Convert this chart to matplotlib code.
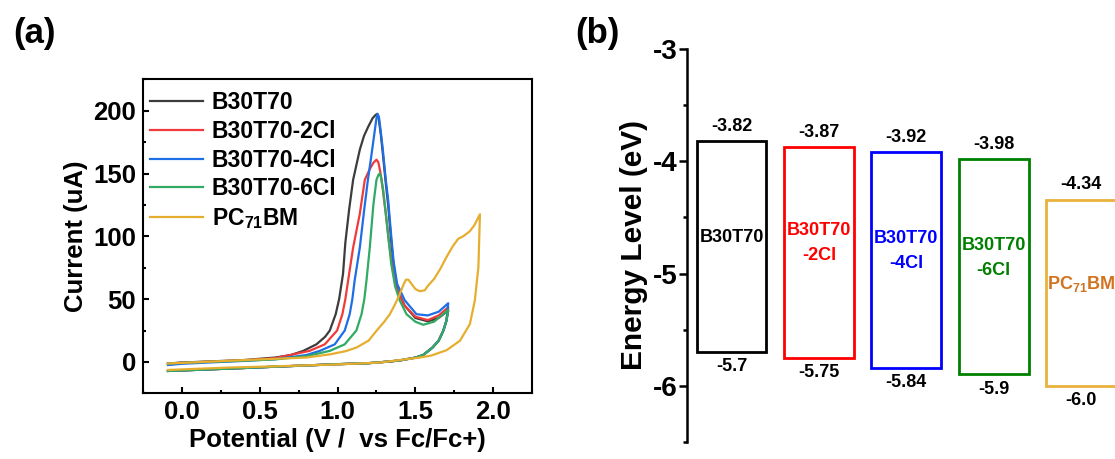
import numpy as np
import matplotlib.pyplot as plt
from matplotlib.ticker import MultipleLocator

plt.rcParams['font.family'] = ['Liberation Sans', 'DejaVu Sans']
plt.rcParams['font.weight'] = 'bold'
plt.rcParams['axes.labelweight'] = 'bold'
plt.rcParams['mathtext.fontset'] = 'custom'
plt.rcParams['mathtext.bf'] = 'Liberation Sans:bold'
plt.rcParams['mathtext.rm'] = 'Liberation Sans:bold'
plt.rcParams['mathtext.default'] = 'bf'

# ---- (a) CV curves ----
# forward scans (V vs Fc/Fc+, current uA)
v_b0 = [-0.09, 0.0, 0.2, 0.4, 0.6, 0.7, 0.78, 0.864, 0.92, 0.95, 0.988, 1.01, 1.035, 1.05,
        1.075, 1.10, 1.143, 1.17, 1.196, 1.225, 1.243, 1.255, 1.265, 1.278, 1.29, 1.31,
        1.325, 1.345, 1.36, 1.383, 1.43, 1.5, 1.58, 1.65, 1.711]
i_b0 = [-1.3, -0.5, 0.5, 1.5, 3.5, 5.5, 8.8, 14, 20, 25, 38, 50, 70, 95,
        122, 145, 169, 180, 187, 194, 196.5, 197.5, 193, 181, 167, 142,
        125, 96, 77, 58, 45, 35, 32.3, 35, 41]

v_b2 = [-0.09, 0.0, 0.2, 0.4, 0.6, 0.82, 0.918, 0.997, 1.031, 1.05, 1.068, 1.10,
        1.143, 1.175, 1.205, 1.23, 1.25, 1.262, 1.275, 1.29, 1.31, 1.33, 1.35, 1.38,
        1.43, 1.5, 1.58, 1.65, 1.711]
i_b2 = [-1.3, -0.6, 0.3, 1.2, 3.0, 8.8, 14, 25, 38, 50, 65, 91,
        118, 145, 153, 158.5, 161, 159, 151, 138, 118, 96, 78, 58,
        45, 36, 33.3, 37, 43.5]

v_b4 = [-0.09, 0.0, 0.2, 0.4, 0.6, 0.8, 0.886, 0.982, 1.046, 1.078, 1.095, 1.11, 1.143,
        1.17, 1.195, 1.218, 1.24, 1.25, 1.257, 1.266, 1.277, 1.29, 1.31, 1.325,
        1.345, 1.36, 1.383, 1.432, 1.507, 1.58, 1.65, 1.711]
i_b4 = [-2.5, -1.5, -0.3, 0.8, 2.2, 5.5, 8.8, 14, 25, 38, 50, 65, 91,
        120, 145, 165, 185, 194, 197.5, 195, 184, 170, 145, 129,
        100, 80, 62, 49, 38, 37, 40, 46.7]

v_b6 = [-0.09, 0.0, 0.2, 0.4, 0.6, 0.8, 0.95, 1.046, 1.121, 1.154, 1.172, 1.186, 1.207,
        1.23, 1.25, 1.263, 1.271, 1.28, 1.293, 1.31, 1.33, 1.345, 1.37, 1.4,
        1.443, 1.5, 1.55, 1.62, 1.711]
i_b6 = [-1.3, -0.7, 0.2, 1.0, 2.0, 4.5, 8.8, 14, 25, 38, 50, 65, 91,
        125, 145, 149, 150, 147, 137, 118, 95, 78, 60, 48.8,
        38, 32, 29.6, 32, 41.3]

# return scan shared by the four polymers
v_back = [1.70, 1.68, 1.65, 1.61, 1.55, 1.5, 1.4, 1.33, 1.2, 1.0, 0.8, 0.6, 0.37, 0.1, -0.09]
i_back = [33, 25, 17, 11.4, 5.5, 3.4, 1.2, 0.3, -1.0, -1.8, -2.8, -3.8, -5.0, -6.3, -7.2]

v_pc = [-0.09, 0.37, 0.6, 0.8, 0.95, 1.05, 1.121, 1.2, 1.25, 1.3, 1.336, 1.37, 1.40, 1.425,
        1.44, 1.455, 1.47, 1.5, 1.529, 1.56, 1.582, 1.62, 1.66, 1.70, 1.74, 1.775, 1.807,
        1.85, 1.88, 1.915, 1.905, 1.882, 1.85, 1.786, 1.70, 1.6, 1.529, 1.271, 1.0, 0.6,
        0.3, -0.09]
i_pc = [-1.3, 1.3, 2.5, 3.5, 6, 8.5, 11.4, 17, 24.8, 32, 38, 46, 54, 62,
        65.5, 65.5, 63, 58, 56.3, 57, 60.8, 66, 74, 83.5, 92, 98, 100,
        104, 109, 117.6, 75.5, 48.8, 30, 16.8, 9.3, 5, 3.5, -0.5, -2, -3.5,
        -4.5, -6.4]

# ---- (b) energy levels ----
names = ['B30T70', 'B30T70\n-2Cl', 'B30T70\n-4Cl', 'B30T70\n-6Cl', r'PC$_{71}$BM']
lumo = [-3.82, -3.87, -3.92, -3.98, -4.34]
homo = [-5.7, -5.75, -5.84, -5.9, -6.0]
lumo_txt = ['-3.82', '-3.87', '-3.92', '-3.98', '-4.34']
homo_txt = ['-5.7', '-5.75', '-5.84', '-5.9', '-6.0']

fig = plt.figure(figsize=(11.15, 4.59), dpi=100)

# panel a
ax = fig.add_axes([0.1283, 0.1431, 0.3489, 0.6841])
curves = [
    ('B30T70', v_b0, i_b0, '#3c3c3c'),
    ('B30T70-2Cl', v_b2, i_b2, '#ef3b3b'),
    ('B30T70-4Cl', v_b4, i_b4, '#1e6ee6'),
    ('B30T70-6Cl', v_b6, i_b6, '#30aa64'),
]
for lab, v, i, c in curves:
    ax.plot(v + v_back, i + i_back, color=c, lw=1.6, label=lab)
ax.plot(v_pc, i_pc, color='#e6ae2e', lw=1.6, label=r'PC$_{71}$BM')

ax.set_xlim(-0.25, 2.25)
ax.set_ylim(-25, 225)
ax.xaxis.set_major_locator(MultipleLocator(0.5))
ax.xaxis.set_minor_locator(MultipleLocator(0.25))
ax.yaxis.set_major_locator(MultipleLocator(50))
ax.yaxis.set_minor_locator(MultipleLocator(25))
ax.tick_params(which='both', direction='in', top=False, right=False, width=1.5)
ax.tick_params(which='major', length=4.5, labelsize=18.5, pad=5)
ax.tick_params(which='minor', length=2.5)
for s in ax.spines.values():
    s.set_linewidth(1.5)
ax.set_xlabel('Potential (V /  vs Fc/Fc+)', fontsize=18.5, labelpad=3)
ax.set_ylabel('Current (uA)', fontsize=18.5, labelpad=4)
ax.legend(loc='upper left', bbox_to_anchor=(0.018, 0.962), frameon=False,
          fontsize=16.5, handlelength=2.3, handletextpad=0.4, labelspacing=0.25,
          borderpad=0, borderaxespad=0)
fig.text(0.012, 0.928, '(a)', fontsize=25, va='center', ha='left')

# panel b
bx = fig.add_axes([0.6161, 0.0377, 0.3839, 0.8549])
box_cols = ['black', '#ff0000', '#0000ff', '#008000', '#e8b23c']
txt_cols = ['black', '#ff0000', '#0000ff', '#008000', '#d2731e']
w = 0.8
for k in range(len(names)):
    x0 = k + 1
    bx.add_patch(plt.Rectangle((x0 - w / 2, homo[k]), w, lumo[k] - homo[k],
                               fill=False, ec=box_cols[k], lw=2))
    bx.text(x0, lumo[k] + 0.13, lumo_txt[k], ha='center', va='center', fontsize=13)
    bx.text(x0, homo[k] - 0.13, homo_txt[k], ha='center', va='center', fontsize=13)
    bx.text(x0, (lumo[k] + homo[k]) / 2 + 0.08, names[k], ha='center', va='center',
            fontsize=13, color=txt_cols[k], linespacing=1.6)

bx.set_xlim(0.49, 5.39)
bx.set_ylim(-6.5, -3)
bx.yaxis.set_major_locator(MultipleLocator(1))
bx.yaxis.set_minor_locator(MultipleLocator(0.5))
bx.set_yticks([-3, -4, -5, -6])
bx.set_yticklabels(['-3', '-4', '-5', '-6'])
bx.set_xticks([])
for s in ['top', 'right', 'bottom']:
    bx.spines[s].set_visible(False)
bx.spines['left'].set_linewidth(1.8)
bx.tick_params(axis='y', which='major', direction='out', length=6, width=1.8,
               labelsize=20, pad=1)
bx.tick_params(axis='y', which='minor', direction='out', length=3, width=1.8)
bx.set_ylabel('Energy Level (eV)', fontsize=21.5, labelpad=3)
fig.text(0.516, 0.928, '(b)', fontsize=25, va='center', ha='left')

fig.savefig('out.png', dpi=100)
